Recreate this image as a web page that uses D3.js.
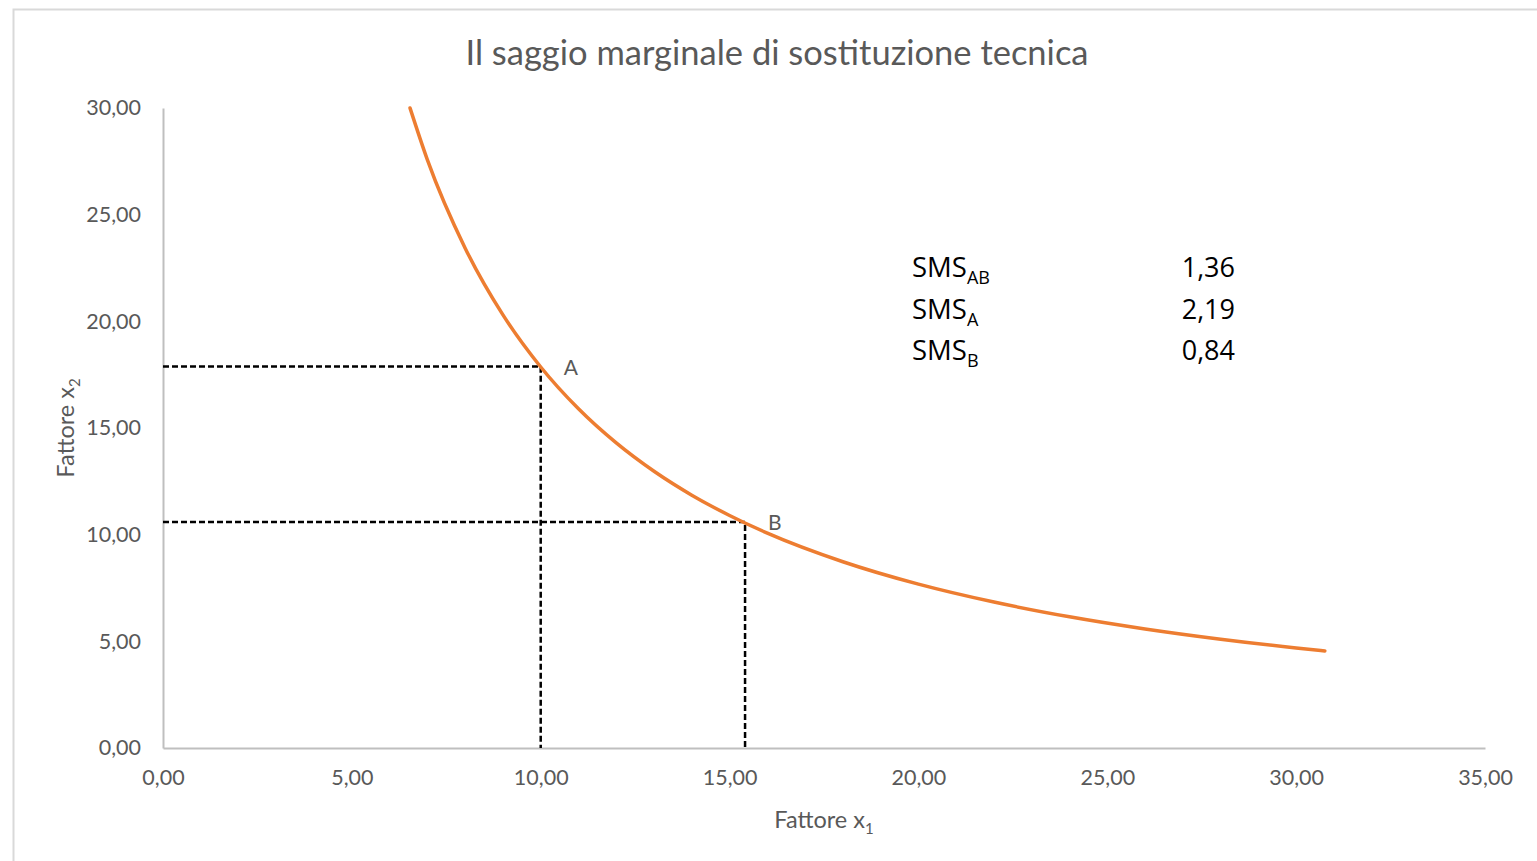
<!DOCTYPE html>
<meta charset="utf-8">
<script src="https://d3js.org/d3.v7.min.js"></script>
<style>
    body { margin: 0; background: #fff; }
    text { font-family: Lato, "Open Sans", sans-serif; }
</style>
<div id="chart"></div>
<script>
    // isoquant
    var x1Values = [6.54, 7, 8, 9, 10, 11, 12, 13, 14, 15, 16, 18, 20, 22, 24, 26, 28, 30, 30.76];
    var x2Values = [30.0, 27.57, 23.43, 20.30, 17.86, 15.90, 14.30, 12.97, 11.85, 10.90, 10.07, 8.73, 7.68, 6.84, 6.15, 5.58, 5.10, 4.69, 4.55];

    var pointNames = ["A", "B"];
    var pointX1 = [10.0, 15.41];
    var pointX2 = [17.88, 10.59];

    var smsLabels = ["AB", "A", "B"];
    var smsValues = ["1,36", "2,19", "0,84"];

    var xTicks = [0, 5, 10, 15, 20, 25, 30, 35];
    var yTicks = [0, 5, 10, 15, 20, 25, 30];

    var W = 1537, H = 861;
    var margin = {top: 108, right: 52, bottom: 113, left: 163},
        width = W - margin.left - margin.right,
        height = H - margin.top - margin.bottom;

    var svg = d3.select("#chart").append("svg")
        .attr("width", W)
        .attr("height", H);

    // chart frame
    svg.append("rect")
        .attr("x", 13.5).attr("y", 9.5)
        .attr("width", W).attr("height", H)
        .attr("fill", "none")
        .attr("stroke", "#d9d9d9")
        .attr("stroke-width", 2);

    svg.append("text")
        .attr("x", 777).attr("y", 65)
        .attr("text-anchor", "middle")
        .attr("fill", "#595959")
        .style("font-size", "34.5px")
        .text("Il saggio marginale di sostituzione tecnica");

    var g = svg.append("g")
        .attr("transform", "translate(" + margin.left + "," + margin.top + ")");

    var x = d3.scaleLinear().domain([0, 35]).range([0, width]);
    var y = d3.scaleLinear().domain([0, 30]).range([height, 0]);
    var fmt = function(d) { return d3.format(".2f")(d).replace(".", ","); };

    var xAxis = g.append("g")
        .attr("transform", "translate(0," + height + ")")
        .call(d3.axisBottom(x).tickValues(xTicks).tickSize(0).tickPadding(22).tickFormat(fmt));
    var yAxis = g.append("g")
        .call(d3.axisLeft(y).tickValues(yTicks).tickSize(0).tickPadding(22).tickFormat(fmt));

    [xAxis, yAxis].forEach(function(a) {
        a.select(".domain").attr("stroke", "#bfbfbf").attr("stroke-width", 2);
        a.selectAll("text")
            .attr("fill", "#595959")
            .style("font-family", "Lato, sans-serif")
            .style("font-size", "21.5px");
    });

    // axis titles
    var xt = svg.append("text")
        .attr("x", margin.left + width / 2).attr("y", 828)
        .attr("text-anchor", "middle")
        .attr("fill", "#595959")
        .style("font-size", "23.5px")
        .text("Fattore x");
    xt.append("tspan").attr("dy", 6).style("font-size", "15px").text("1");

    var yt = svg.append("text")
        .attr("transform", "translate(74," + (margin.top + height / 2) + ") rotate(-90)")
        .attr("text-anchor", "middle")
        .attr("fill", "#595959")
        .style("font-size", "23.5px")
        .text("Fattore x");
    yt.append("tspan").attr("dy", 6).style("font-size", "15px").text("2");

    // dashed guides
    pointNames.forEach(function(n, i) {
        var px = x(pointX1[i]), py = y(pointX2[i]);
        g.append("path")
            .attr("d", "M0," + py + "H" + px + "V" + height)
            .attr("fill", "none")
            .attr("stroke", "#000")
            .attr("stroke-width", 2.5)
            .attr("stroke-dasharray", "6,3");
    });

    var line = d3.line()
        .x(function(d, i) { return x(x1Values[i]); })
        .y(function(d) { return y(d); })
        .curve(d3.curveMonotoneX);

    g.append("path")
        .datum(x2Values)
        .attr("d", line)
        .attr("fill", "none")
        .attr("stroke", "#ed7d31")
        .attr("stroke-width", 3.5)
        .attr("stroke-linecap", "round");

    g.selectAll(".plabel")
        .data(pointNames)
        .enter().append("text")
        .attr("x", function(d, i) { return x(pointX1[i]) + 23; })
        .attr("y", function(d, i) { return y(pointX2[i]) + 8; })
        .attr("fill", "#595959")
        .style("font-size", "21px")
        .text(function(d) { return d; });

    // SMS table
    smsLabels.forEach(function(s, i) {
        var t = svg.append("text")
            .attr("x", 912).attr("y", 277 + i * 41.5)
            .attr("fill", "#000")
            .style("font-family", "'Open Sans', sans-serif")
            .style("font-size", "27.5px")
            .text("SMS");
        t.append("tspan").attr("dy", 7).style("font-size", "18px").text(s);
        svg.append("text")
            .attr("x", 1235).attr("y", 277 + i * 41.5)
            .attr("text-anchor", "end")
            .attr("fill", "#000")
            .style("font-family", "'Open Sans', sans-serif")
            .style("font-size", "27px")
            .text(smsValues[i]);
    });
</script>
